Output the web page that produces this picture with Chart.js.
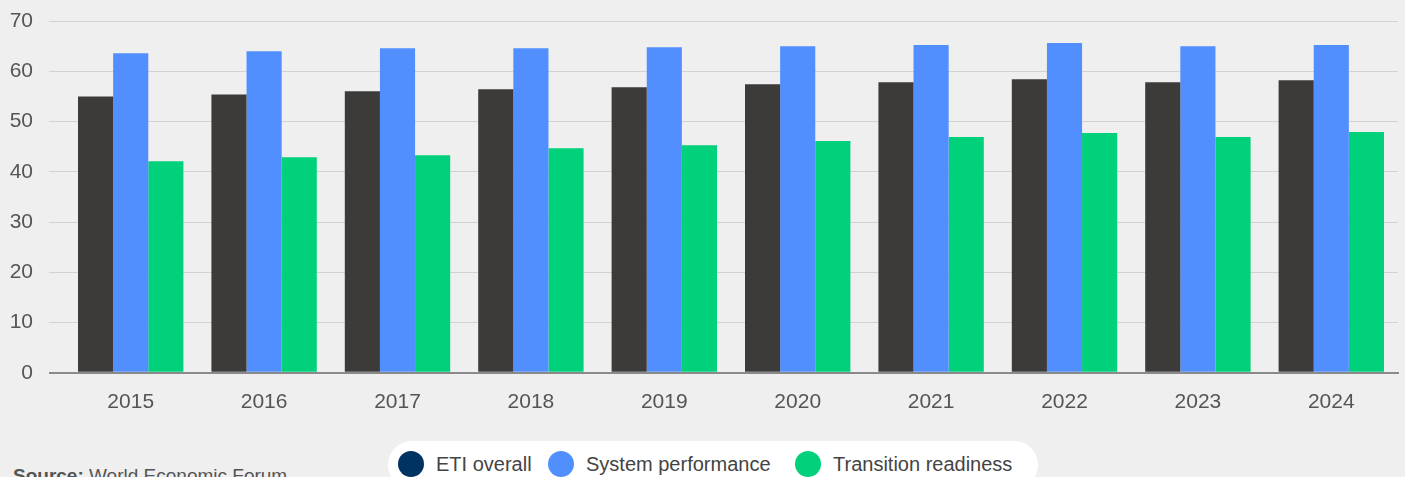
<!DOCTYPE html>
<html>
<head>
<meta charset="utf-8">
<script src="https://cdn.jsdelivr.net/npm/chart.js@4"></script>
<style>
  html, body { margin: 0; padding: 0; background: #efefef; }
  body { width: 1405px; height: 477px; position: relative; overflow: hidden; font-family: "Liberation Sans", Arial, sans-serif; color: #555; }
  .chart-box { position: absolute; left: 0; top: 0; width: 1405px; height: 440px; }
  .legend-pill { position: absolute; left: 388px; top: 441px; width: 650px; height: 48px; background: #fff; border-radius: 24px; }
  .legend-item { position: absolute; top: 10px; height: 26px; display: flex; align-items: center; font-size: 20px; color: #444; white-space: nowrap; }
  .legend-item span.dot { width: 26px; height: 26px; border-radius: 50%; display: inline-block; margin-right: 12px; }
  .source { position: absolute; left: 13px; top: 466px; font-size: 19px; line-height: 19px; color: #555; white-space: nowrap; }
</style>
</head>
<body>
<div class="chart-box"><canvas id="etiChart"></canvas></div>
<div class="legend-pill" id="legend"></div>
<div class="source"><b>Source:</b> World Economic Forum</div>
<script>
const years = ['2015', '2016', '2017', '2018', '2019', '2020', '2021', '2022', '2023', '2024'];
const seriesNames = ['ETI overall', 'System performance', 'Transition readiness'];
const etiOverall = [55.0, 55.4, 56.0, 56.4, 56.8, 57.4, 57.8, 58.4, 57.8, 58.2];
const systemPerformance = [63.6, 64.0, 64.6, 64.6, 64.8, 65.0, 65.2, 65.6, 65.0, 65.2];
const transitionReadiness = [42.1, 42.9, 43.3, 44.7, 45.3, 46.1, 46.9, 47.7, 46.9, 47.9];
const yTicks = [0, 10, 20, 30, 40, 50, 60, 70];

const barColors = ['#3d3b39', '#528ffe', '#00d17a'];
const legendColors = ['#003262', '#528ffe', '#00d17a'];

// legend is html so it can sit in the white pill
const legendX = [10, 160, 407]; // left of each item inside the pill
const legendEl = document.getElementById('legend');
seriesNames.forEach((name, i) => {
    const item = document.createElement('div');
    item.className = 'legend-item';
    item.style.left = legendX[i] + 'px';
    item.innerHTML = '<span class="dot" style="background:' + legendColors[i] + '"></span>' + name;
    legendEl.appendChild(item);
});

const ctx = document.getElementById('etiChart');
const allSeries = [etiOverall, systemPerformance, transitionReadiness];

new Chart(ctx, {
    type: 'bar',
    data: {
        labels: years,
        datasets: allSeries.map((vals, i) => ({
            label: seriesNames[i],
            data: vals,
            backgroundColor: barColors[i],
            borderWidth: 0,
            barPercentage: 1.0,
            categoryPercentage: 0.79
        }))
    },
    options: {
        responsive: true,
        maintainAspectRatio: false,
        animation: false,
        layout: {
            padding: { top: 21, right: 7, bottom: 8, left: 0 }
        },
        plugins: {
            legend: { display: false },
            tooltip: { enabled: false }
        },
        scales: {
            x: {
                grid: { display: false, drawTicks: false },
                border: { display: true, color: '#8a8a8a', width: 2 },
                ticks: {
                    padding: 17,
                    color: '#555',
                    font: { family: 'Liberation Sans', size: 21 }
                }
            },
            y: {
                min: 0,
                max: 70,
                afterBuildTicks: (scale) => {
                    scale.ticks = yTicks.map(v => ({ value: v }));
                },
                afterFit: (scale) => {
                    scale.width = 64; // plot starts at x=64
                    scale.paddingTop = 0;
                    scale.paddingBottom = 0;
                },
                border: { display: false },
                grid: {
                    drawTicks: true,
                    tickLength: 15,
                    color: (c) => c.tick && c.tick.value === 0 ? '#8a8a8a' : '#d2d2d2',
                    tickColor: (c) => c.tick && c.tick.value === 0 ? '#8a8a8a' : '#d2d2d2',
                    lineWidth: (c) => c.tick && c.tick.value === 0 ? 2 : 1
                },
                ticks: {
                    padding: 16,
                    color: '#555',
                    font: { family: 'Liberation Sans', size: 21 }
                }
            }
        }
    }
});
</script>
</body>
</html>
